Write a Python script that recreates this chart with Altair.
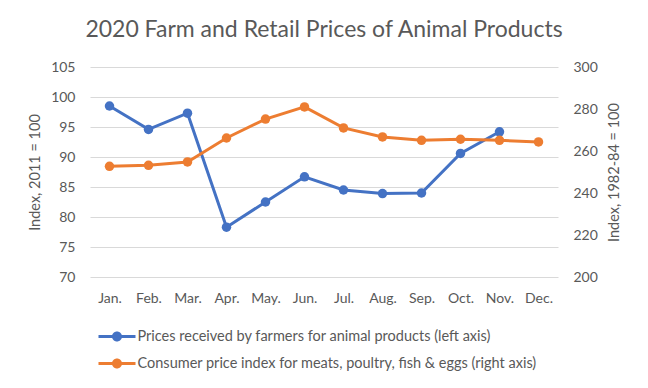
import altair as alt
import pandas as pd

months = ["Jan.", "Feb.", "Mar.", "Apr.", "May.", "Jun.", "Jul.", "Aug.", "Sep.", "Oct.", "Nov.", "Dec."]
farm_values = [98.5, 94.6, 97.3, 78.3, 82.5, 86.7, 84.5, 83.9, 84.0, 90.6, 94.2]
cpi_values = [252.7, 253.2, 254.8, 266.2, 275.2, 281.0, 271.0, 266.7, 265.1, 265.6, 265.1, 264.3]
series_names = [
    "Prices received by farmers for animal products (left axis)",
    "Consumer price index for meats, poultry, fish & eggs (right axis)",
]
colors = ["#4472C4", "#ED7D31"]
left_ticks = [70, 75, 80, 85, 90, 95, 100, 105]
right_ticks = [200, 220, 240, 260, 280, 300]

FONT = "Lato"
TXT = "#595959"

df_farm = pd.DataFrame({"month": months[:len(farm_values)], "value": farm_values, "series": series_names[0]})
df_cpi = pd.DataFrame({"month": months, "value": cpi_values, "series": series_names[1]})

xenc = alt.X(
    "month:N",
    sort=months,
    scale=alt.Scale(domain=months, padding=0.5),
    axis=alt.Axis(title=None, labelAngle=0, ticks=False, domain=False, grid=False,
                  labelPadding=14, labelFontSize=14, labelFont=FONT, labelColor=TXT),
)

# legend glyph: a line segment with a dot in the middle (unit-square path)
sym_path = ("M-1.48,-0.12H-0.3V0.12H-1.48Z "
            "M0.3,-0.12H1.48V0.12H0.3Z "
            "M-0.4,0A0.4,0.4 0 1,1 0.4,0A0.4,0.4 0 1,1 -0.4,0Z")

legend = alt.Legend(
    title=None, orient="none", legendX=14.5, legendY=257, direction="vertical",
    symbolType=sym_path, symbolSize=625, symbolStrokeWidth=0, symbolOpacity=1,
    labelFontSize=14.5, labelFont=FONT, labelColor=TXT, labelOffset=8, labelLimit=0,
    rowPadding=8,
)
color_scale = alt.Scale(domain=series_names, range=colors)


def make_layer(df, yenc, idx):
    base = alt.Chart(df).encode(x=xenc, y=yenc)
    line = base.mark_line(strokeWidth=3, color=colors[idx])
    pts = base.mark_point(filled=True, size=90, opacity=1).encode(
        color=alt.Color("series:N", scale=color_scale, legend=legend)
    )
    return alt.layer(line, pts)


y_left = alt.Y(
    "value:Q",
    scale=alt.Scale(domain=[70, 105], nice=False, zero=False),
    axis=alt.Axis(title="Index, 2011 = 100", values=left_ticks, orient="left", ticks=False, domain=False,
                  grid=True, gridColor="#d9d9d9", gridWidth=1,
                  labelPadding=15, labelFontSize=14, labelFont=FONT, labelColor=TXT,
                  titleFontSize=14.5, titleFont=FONT, titleColor=TXT, titleFontWeight="normal", titlePadding=8),
)
y_right = alt.Y(
    "value:Q",
    scale=alt.Scale(domain=[200, 300], nice=False, zero=False),
    axis=alt.Axis(title="Index, 1982-84 = 100", values=right_ticks, orient="right", ticks=False, domain=False,
                  grid=False,
                  labelPadding=15, labelFontSize=14, labelFont=FONT, labelColor=TXT,
                  titleFontSize=14.5, titleFont=FONT, titleColor=TXT, titleFontWeight="normal",
                  titleAngle=270, titleBaseline="top", titlePadding=10),
)

chart = alt.layer(
    make_layer(df_farm, y_left, 0),
    make_layer(df_cpi, y_right, 1),
).resolve_scale(y="independent").properties(
    width=468,
    height=210,
    autosize=alt.AutoSizeParams(type="none"),
    padding={"left": 82, "top": 59, "right": 82, "bottom": 103},
    title=alt.Title("2020 Farm and Retail Prices of Animal Products", fontSize=23, font=FONT,
                    color=TXT, fontWeight="normal", offset=18),
).configure_view(stroke=None)

chart.save("out.html", embed_options={"renderer": "svg", "actions": False})
